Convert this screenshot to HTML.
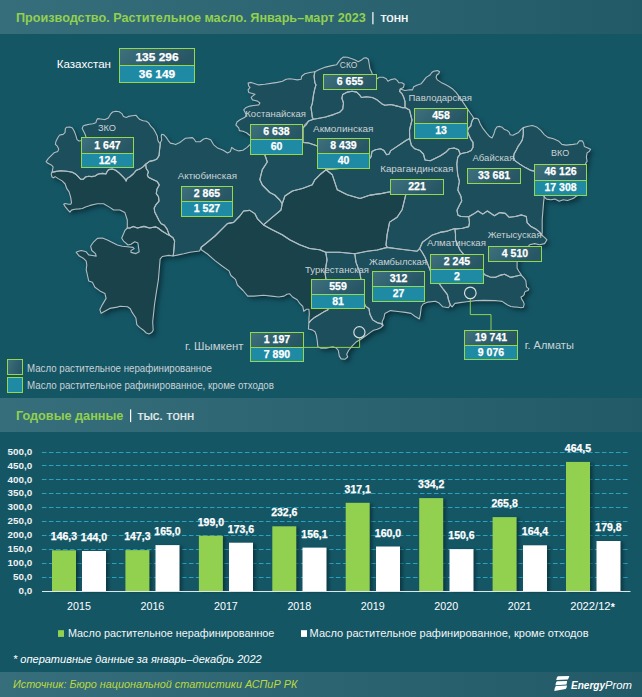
<!DOCTYPE html>
<html><head><meta charset="utf-8">
<style>
html,body{margin:0;padding:0;background:#155665;}
svg{display:block;font-family:"Liberation Sans",sans-serif;}
</style></head>
<body>
<svg width="642" height="697" viewBox="0 0 642 697">
<defs>
<linearGradient id="hdr" x1="0" y1="0" x2="1" y2="0">
<stop offset="0" stop-color="#376e7b"/><stop offset="1" stop-color="#235a68"/>
</linearGradient>
<linearGradient id="boxg" x1="0" y1="0" x2="1" y2="0.3">
<stop offset="0" stop-color="#3e707d"/><stop offset="1" stop-color="#275665"/>
</linearGradient>
<filter id="msh" x="-10%" y="-10%" width="120%" height="120%" color-interpolation-filters="sRGB">
<feDropShadow dx="3" dy="3" stdDeviation="2.5" flood-color="#05262e" flood-opacity="0.75"/>
</filter>
<filter id="bsh" x="-20%" y="-10%" width="160%" height="120%" color-interpolation-filters="sRGB">
<feDropShadow dx="3" dy="1" stdDeviation="1.5" flood-color="#062a33" flood-opacity="0.6"/>
</filter>
</defs>
<rect width="642" height="697" fill="#155665"/>
<rect x="0" y="0" width="642" height="34" fill="url(#hdr)"/>
<text x="16.0" y="21.8" font-size="12.90" fill="#92d050" font-weight="bold" font-style="normal" text-anchor="start" textLength="349.8" lengthAdjust="spacingAndGlyphs">Производство. Растительное масло. Январь–март 2023</text><rect x="372.3" y="12.1" width="1.2" height="12.2" fill="#fff"/><text x="380.4" y="21.5" font-size="12.90" fill="#fff" font-weight="normal" font-style="normal" text-anchor="start" textLength="28.0" lengthAdjust="spacingAndGlyphs" stroke="#fff" stroke-width="0.2">тонн</text>
<g filter="url(#msh)">
<polygon points="46.1,161.6 48.4,158.4 51.2,155.6 54.0,152.8 57.8,151.4 58.7,149.0 57.3,146.2 55.4,144.3 55.9,141.5 57.8,137.8 59.6,135.0 60.3,134.9 63.1,134.4 65.0,132.6 65.4,128.4 66.8,127.2 70.1,127.1 72.4,127.9 74.3,131.2 75.7,134.9 77.1,139.6 79.0,141.0 81.5,140.5 84.0,139.0 86.0,137.2 85.0,134.0 83.6,131.2 82.2,128.4 83.2,126.0 85.5,125.1 89.3,124.2 93.0,123.7 95.8,122.8 96.7,120.0 97.7,118.6 100.5,119.0 104.2,119.5 105.0,119.6 108.3,118.0 110.5,114.2 112.6,112.0 115.9,111.2 119.2,111.8 121.9,113.6 123.5,116.4 126.3,117.4 128.4,116.4 132.3,115.8 136.1,115.3 137.7,117.4 139.9,119.6 143.2,120.7 146.4,121.3 148.6,122.9 150.8,126.2 153.5,128.9 155.7,132.7 157.3,136.0 157.9,140.3 159.0,142.5 160.3,143.5 160.1,145.8 159.5,150.2 159.0,155.0 157.2,158.7 153.9,160.4 149.5,161.4 145.7,164.2 143.0,166.9 139.7,169.1 136.4,170.2 133.2,174.0 129.9,176.7 127.2,178.4 126.1,181.1 125.0,178.9 122.3,176.2 119.0,172.9 115.7,170.2 112.4,169.1 108.6,169.6 107.0,171.8 105.9,174.0 102.6,173.4 98.3,174.0 95.0,176.0 91.7,176.6 88.6,176.2 85.5,177.0 83.2,179.3 80.8,179.3 77.7,176.2 75.4,173.9 72.3,172.3 66.8,171.2 60.6,170.8 55.1,171.6 52.0,172.3 52.6,169.6 53.1,166.8 51.2,164.9 47.5,163.0" fill="#1d4e5b"/>
<polygon points="52.0,172.3 55.1,171.6 60.6,170.8 66.8,171.2 72.3,172.3 75.4,173.9 77.7,176.2 80.8,179.3 83.2,179.3 85.5,177.0 88.6,176.2 91.7,176.6 95.0,176.0 98.3,174.0 102.6,173.4 105.9,174.0 107.0,171.8 108.6,169.6 112.4,169.1 115.7,170.2 119.0,172.9 122.3,176.2 125.0,178.9 126.1,181.1 127.2,178.4 129.9,176.7 133.2,174.0 136.4,170.2 139.7,169.1 143.0,166.9 145.7,164.2 146.2,168.5 148.4,171.8 147.3,175.1 148.4,177.3 152.8,179.4 157.2,181.6 159.3,184.9 156.9,189.3 156.3,193.6 158.5,196.8 159.0,201.1 155.8,204.9 154.2,208.1 154.7,211.9 156.9,216.2 159.0,220.5 161.2,223.7 164.4,225.3 167.1,229.1 168.7,233.4 169.8,235.5 166.6,233.9 162.3,231.2 158.0,228.0 155.8,226.9 149.4,228.0 144.0,226.4 137.5,228.0 133.2,226.4 130.0,228.0 127.3,228.0 127.3,220.0 124.8,212.4 119.8,210.0 113.6,210.0 109.8,207.4 103.6,203.7 97.4,203.7 95.0,204.3 90.2,205.4 85.5,207.0 82.4,208.5 79.3,208.9 74.6,209.3 71.5,210.1 69.9,212.1 67.6,209.7 65.2,206.6 63.7,204.3 65.2,203.5 68.4,204.3 70.7,204.3 71.5,202.7 70.7,197.3 69.1,191.8 66.8,188.7 65.2,184.0 62.1,180.9 58.2,178.6 55.1,176.6 53.6,177.8 52.0,177.0 51.2,173.9" fill="#1a424b"/>
<polygon points="127.3,228.0 130.0,228.0 133.2,226.4 137.5,228.0 144.0,226.4 149.4,228.0 155.8,226.9 158.0,228.0 162.3,231.2 166.6,233.9 169.8,235.5 173.0,237.7 174.6,240.9 174.1,247.4 173.5,253.8 173.0,256.0 168.7,255.4 162.3,256.5 160.1,259.2 158.4,279.7 156.0,294.7 154.6,304.0 153.6,313.4 152.7,321.8 153.2,330.2 151.8,332.5 149.0,334.0 146.2,333.0 143.4,330.2 139.6,327.4 136.8,324.6 135.9,318.0 132.1,312.4 130.3,308.7 127.5,306.8 120.0,306.3 117.3,307.1 109.8,308.4 101.1,313.3 99.9,309.6 102.4,304.6 106.1,298.4 104.9,293.4 99.9,290.9 94.9,287.2 92.4,282.2 88.7,281.0 86.2,269.7 86.8,265.0 86.2,261.1 83.7,258.6 79.3,256.1 76.2,252.4 76.9,251.8 81.2,250.5 86.2,251.8 88.7,254.9 92.4,255.5 96.2,256.1 95.5,253.6 91.8,250.5 90.6,246.2 93.7,241.8 97.4,238.4 102.4,238.0 107.4,240.0 112.4,242.4 117.4,245.0 122.3,246.2 127.3,246.8 133.0,247.4 134.2,248.6 131.0,250.5 131.0,252.4 136.0,253.6 139.2,251.8 138.5,247.4 137.9,243.0 134.8,241.8 131.0,244.3 128.0,245.0 123.6,241.2 121.7,238.0 123.6,233.7 124.8,230.6" fill="#1a424b"/>
<polygon points="160.6,142.0 161.7,140.3 161.2,136.0 161.7,134.3 163.9,134.9 166.1,137.1 168.2,140.3 170.4,143.1 172.8,143.6 175.6,144.6 179.8,142.5 182.6,140.4 185.4,138.3 192.4,137.6 194.5,139.7 195.9,141.8 200.1,141.8 203.6,139.0 206.5,138.3 210.7,139.7 213.5,144.6 217.7,148.1 223.3,150.2 227.5,153.0 230.3,151.6 231.7,147.4 234.5,149.5 238.7,150.9 242.9,150.2 247.1,147.4 249.9,144.6 252.0,143.0 258.0,150.0 264.8,154.7 267.3,162.0 262.3,169.6 259.8,179.6 262.3,185.0 267.3,190.0 269.7,192.5 274.7,195.0 279.7,200.0 282.2,203.7 281.0,210.0 272.2,217.4 263.5,224.9 257.3,218.6 254.8,213.6 249.8,210.4 243.6,211.0 239.8,216.0 233.6,222.4 227.4,223.6 222.4,228.6 215.0,236.0 207.4,242.3 201.2,247.3 199.6,251.0 190.0,252.2 183.8,253.8 178.4,254.9 173.0,256.0 173.5,253.8 174.1,247.4 174.6,240.9 173.0,237.7 169.8,235.5 168.7,233.4 167.1,229.1 164.4,225.3 161.2,223.7 159.0,220.5 156.9,216.2 154.7,211.9 154.2,208.1 155.8,204.9 159.0,201.1 158.5,196.8 156.3,193.6 156.9,189.3 159.3,184.9 157.2,181.6 152.8,179.4 148.4,177.3 147.3,175.1 148.4,171.8 146.2,168.5 145.7,164.2 149.5,161.4 153.9,160.4 157.2,158.7 159.3,155.5 159.5,150.2 160.1,145.8 160.3,143.5" fill="#1d4e5b"/>
<polygon points="248.1,83.1 251.2,82.4 255.0,83.7 258.7,84.9 264.9,84.3 272.4,83.1 277.4,82.4 282.4,81.2 286.1,79.3 289.8,78.7 293.6,79.3 297.3,79.9 301.1,79.3 301.7,76.2 304.8,73.7 309.8,72.5 314.8,71.8 314.1,76.2 314.8,82.4 316.0,84.9 314.8,88.7 313.5,94.9 312.3,103.6 311.0,107.4 311.7,112.3 312.3,117.3 313.5,119.2 308.5,121.1 304.8,124.8 303.0,128.0 303.0,142.4 308.7,143.0 312.4,144.2 317.4,146.1 322.0,155.0 326.0,169.8 319.8,174.8 314.8,179.8 312.3,184.8 302.4,188.5 292.4,191.0 284.9,196.0 282.2,203.7 279.7,200.0 274.7,195.0 269.7,192.5 267.3,190.0 262.3,185.0 259.8,179.6 262.3,169.6 267.3,162.0 264.8,154.7 258.0,150.0 252.0,143.0 251.0,137.0 249.9,135.5 246.4,132.7 242.9,131.3 239.4,130.6 238.7,127.8 235.9,125.0 237.0,122.0 240.0,119.8 245.0,117.3 246.2,114.8 245.0,112.3 243.7,109.8 246.2,107.4 250.0,106.1 253.7,105.5 258.7,104.9 259.9,103.0 257.4,101.1 252.5,99.9 251.2,97.4 252.5,96.1 255.0,94.3 252.5,93.6 248.7,92.4 248.1,89.9 250.0,87.4 248.7,86.2" fill="#1d4e5b"/>
<polygon points="314.8,71.8 319.3,69.5 325.6,67.1 331.8,65.6 336.5,64.8 338.8,61.7 341.2,58.6 343.5,57.0 347.4,57.3 351.3,58.6 355.2,60.1 358.3,61.7 361.4,60.1 363.7,58.1 366.1,57.8 368.4,59.3 369.2,64.0 370.0,68.7 371.5,71.8 372.3,74.1 375.0,77.0 377.0,78.8 379.3,77.3 383.2,77.3 386.3,78.8 387.9,81.2 391.0,79.6 394.9,78.8 397.2,80.4 398.8,82.7 401.9,82.7 404.2,84.3 403.5,87.4 400.3,88.9 399.6,91.3 401.9,93.6 403.5,96.7 405.0,101.4 405.0,107.6 401.9,107.6 397.2,106.1 391.0,104.5 384.8,105.3 381.7,103.7 377.0,99.8 372.3,97.5 366.1,96.7 361.4,97.5 359.8,95.2 356.7,92.1 352.1,91.3 347.4,92.1 342.7,94.4 341.9,98.3 343.5,103.0 342.7,109.2 339.6,112.3 333.4,114.6 325.6,117.0 317.8,118.5 313.5,119.2 312.3,117.3 311.7,112.3 311.0,107.4 312.3,103.6 313.5,94.9 314.8,88.7 316.0,84.9 314.8,82.4 314.1,76.2" fill="#1d4e5b"/>
<polygon points="313.5,119.2 317.8,118.5 325.6,117.0 333.4,114.6 339.6,112.3 342.7,109.2 343.5,103.0 341.9,98.3 342.7,94.4 347.4,92.1 352.1,91.3 356.7,92.1 359.8,95.2 361.4,97.5 366.1,96.7 372.3,97.5 377.0,99.8 381.7,103.7 384.8,105.3 391.0,104.5 397.2,106.1 401.9,107.6 405.0,107.6 409.5,110.0 412.0,120.0 409.5,130.0 409.7,138.6 406.3,140.3 401.1,143.7 396.0,147.1 390.8,150.6 389.1,154.0 386.6,154.8 384.0,150.6 380.6,148.8 375.4,149.7 372.0,151.4 371.1,156.6 365.0,165.0 345.0,168.0 326.0,169.8 322.0,155.0 317.4,146.1 312.4,144.2 308.7,143.0 303.0,142.4 303.0,128.0 306.2,124.9 308.5,121.1" fill="#1d4e5b"/>
<polygon points="399.6,91.3 400.3,88.9 405.0,90.5 410.0,89.7 412.5,89.9 413.7,86.8 417.4,84.9 421.2,83.7 423.7,80.6 426.2,77.4 430.0,75.0 431.8,72.5 433.6,71.2 437.4,70.6 439.6,71.8 438.6,73.7 436.8,75.0 436.1,77.4 437.4,79.9 441.1,82.4 444.9,84.3 448.6,86.2 452.3,88.7 456.1,92.4 459.8,97.4 462.3,101.1 464.8,104.9 467.3,108.6 469.8,112.3 472.8,116.5 473.7,118.4 472.3,120.3 471.4,123.1 470.9,125.9 468.7,128.0 467.4,131.0 469.3,136.1 471.2,139.9 473.0,142.4 473.0,147.3 471.2,150.5 467.4,152.3 463.7,153.0 460.2,154.0 458.5,149.7 454.2,148.0 449.1,148.8 445.7,152.3 440.5,155.7 435.4,158.3 430.3,160.8 425.1,160.0 423.4,154.0 420.0,150.6 414.8,148.8 411.4,145.4 409.7,138.6 409.5,130.0 412.0,120.0 409.5,110.0 405.0,107.6 405.0,101.4 403.5,96.7 401.9,93.6" fill="#1d4e5b"/>
<polygon points="326.0,169.8 345.0,168.0 365.0,165.0 371.1,156.6 372.0,151.4 375.4,149.7 380.6,148.8 384.0,150.6 386.6,154.8 389.1,154.0 390.8,150.6 396.0,147.1 401.1,143.7 406.3,140.3 409.7,138.6 411.4,145.4 414.8,148.8 420.0,150.6 423.4,154.0 425.1,160.0 430.3,160.8 435.4,158.3 440.5,155.7 445.7,152.3 449.1,148.8 454.2,148.0 458.5,149.7 460.2,154.0 457.7,157.4 456.8,164.3 457.7,174.6 459.4,181.4 458.5,186.0 457.8,190.0 459.3,193.1 460.9,196.2 461.7,200.9 459.3,205.6 457.0,210.2 457.8,214.9 460.9,216.5 468.7,216.8 469.5,222.7 468.7,226.6 462.5,228.2 456.2,228.9 454.8,228.6 447.4,231.1 439.9,232.4 432.4,234.9 427.4,238.6 422.4,242.3 419.6,248.7 417.1,251.2 407.1,250.0 397.1,248.7 387.2,247.4 386.0,245.0 387.1,234.6 389.6,222.1 397.1,217.2 402.1,209.7 404.6,199.7 405.8,194.7 398.0,193.0 390.0,191.7 382.3,193.4 370.3,195.1 360.0,198.5 347.2,194.7 337.3,189.8 334.8,182.3 332.3,174.8" fill="#1d4e5b"/>
<polygon points="282.2,203.7 284.9,196.0 292.4,191.0 302.4,188.5 312.3,184.8 314.8,179.8 319.8,174.8 326.0,169.8 332.3,174.8 334.8,182.3 337.3,189.8 347.2,194.7 360.0,198.5 370.3,195.1 382.3,193.4 390.0,191.7 398.0,193.0 405.8,194.7 404.6,199.7 402.1,209.7 397.1,217.2 389.6,222.1 387.1,234.6 386.0,245.0 387.2,247.4 377.2,250.0 367.2,251.2 354.8,253.7 339.5,252.3 325.8,252.3 319.6,249.8 309.6,248.5 299.7,244.8 289.7,239.8 282.2,234.8 272.2,229.8 263.5,224.9 272.2,217.4 281.0,210.0" fill="#1a424b"/>
<polygon points="473.7,118.4 476.5,118.2 478.4,119.3 480.3,124.0 483.1,128.7 486.8,133.4 489.6,136.6 492.0,138.0 493.8,134.3 495.2,129.6 497.1,126.8 499.9,126.4 502.2,127.3 504.6,129.6 507.4,130.6 509.3,132.4 510.2,134.8 513.0,135.2 515.8,133.8 518.6,132.4 520.9,129.6 523.3,127.6 523.3,134.3 522.3,139.9 520.5,143.0 518.4,145.8 516.3,150.0 514.2,153.6 513.5,157.1 514.9,160.6 519.8,164.1 525.4,167.6 531.0,170.4 534.5,171.1 540.0,185.0 544.3,197.0 543.6,201.9 543.0,210.0 542.2,219.6 542.2,232.1 541.9,235.2 539.6,232.1 535.7,228.9 531.0,226.6 527.1,222.7 526.3,216.5 521.7,214.9 515.4,216.5 509.2,217.3 505.3,213.4 499.8,212.6 494.4,215.7 487.4,211.0 482.7,214.1 478.0,211.0 473.4,214.1 468.7,216.8 460.9,216.5 457.8,214.9 457.0,210.2 459.3,205.6 461.7,200.9 460.9,196.2 459.3,193.1 457.8,190.0 458.5,186.0 459.4,181.4 457.7,174.6 456.8,164.3 457.7,157.4 460.2,154.0 463.7,153.0 467.4,152.3 471.2,150.5 473.0,147.3 473.0,142.4 471.2,139.9 469.3,136.1 467.4,131.0 468.7,128.0 470.9,125.9 471.4,123.1 472.3,120.3" fill="#1d4e5b"/>
<polygon points="523.3,127.6 528.2,126.2 532.4,125.5 536.6,126.9 540.8,130.4 544.3,134.6 547.9,137.4 553.5,138.8 558.4,140.9 561.9,144.4 566.1,145.1 573.1,144.4 577.3,143.7 579.4,140.9 582.2,140.9 583.6,143.0 584.3,146.5 587.8,147.9 590.6,149.3 589.2,151.5 587.1,152.9 586.4,157.1 587.1,161.3 585.7,163.4 582.0,180.0 577.0,196.0 575.9,196.3 574.5,197.7 571.7,199.1 567.5,200.5 563.3,199.8 559.1,201.2 554.9,199.1 550.7,199.8 546.5,199.1 544.3,197.0 540.0,185.0 534.5,171.1 531.0,170.4 525.4,167.6 519.8,164.1 514.9,160.6 513.5,157.1 514.2,153.6 516.3,150.0 518.4,145.8 520.5,143.0 522.3,139.9 523.3,134.3" fill="#1d4e5b"/>
<polygon points="454.8,228.6 456.2,228.9 462.5,228.2 468.7,226.6 469.5,222.7 468.7,216.8 473.4,214.1 478.0,211.0 482.7,214.1 487.4,211.0 494.4,215.7 499.8,212.6 505.3,213.4 509.2,217.3 515.4,216.5 521.7,214.9 526.3,216.5 527.1,222.7 531.0,226.6 535.7,228.9 539.6,232.1 541.9,235.2 544.6,237.4 547.0,239.8 544.6,243.6 539.6,244.8 534.6,243.6 529.6,244.8 525.0,250.0 518.0,258.0 517.1,262.4 517.1,267.9 518.7,271.0 521.0,274.2 521.0,275.0 515.5,276.2 510.8,277.4 507.6,275.8 504.5,274.2 499.7,275.4 495.0,277.4 490.0,277.0 484.7,274.7 480.0,268.0 470.0,262.0 460.0,250.0 455.5,240.0 455.5,233.6" fill="#1d4e5b"/>
<polygon points="419.6,248.7 422.4,242.3 427.4,238.6 432.4,234.9 439.9,232.4 447.4,231.1 454.8,228.6 455.5,233.6 455.5,240.0 460.0,250.0 470.0,262.0 480.0,268.0 484.7,274.7 490.0,277.0 495.0,277.4 499.7,275.4 504.5,274.2 507.6,275.8 510.8,277.4 515.5,276.2 521.0,275.0 523.4,277.4 525.8,280.5 526.2,283.7 526.5,286.8 528.9,288.8 528.1,290.4 525.8,291.2 524.6,292.3 524.2,294.7 522.6,296.3 521.0,297.1 521.8,299.4 523.4,301.8 524.2,304.2 523.4,307.3 521.0,307.7 517.9,307.3 513.9,306.9 510.8,306.5 507.6,305.0 504.5,303.0 502.1,301.4 498.9,301.0 495.0,300.6 484.2,300.4 476.0,300.6 466.7,301.8 460.0,302.6 455.0,303.4 452.1,306.8 450.3,305.0 448.4,299.3 447.4,294.7 443.6,289.7 440.0,284.7 432.0,275.0 430.0,269.7 425.0,257.3 422.0,252.0" fill="#1d4e5b"/>
<polygon points="354.8,253.7 367.2,251.2 377.2,250.0 387.2,247.4 397.1,248.7 407.1,250.0 417.1,251.2 419.6,248.7 422.0,252.0 425.0,257.3 430.0,269.7 432.0,275.0 440.0,284.7 443.6,289.7 447.4,294.7 448.4,299.3 450.3,305.0 448.4,307.8 442.8,306.8 439.1,303.1 435.3,301.2 427.9,302.1 423.2,304.0 421.3,306.8 420.4,314.3 419.4,319.0 414.8,316.2 411.0,313.4 405.4,312.4 397.9,311.5 390.5,310.6 384.9,313.4 383.9,318.0 382.1,321.8 383.0,325.5 381.1,323.6 377.4,322.7 372.7,319.9 369.9,314.3 369.0,308.7 365.2,305.9 362.0,295.0 361.0,280.0 359.8,272.4 356.0,262.4" fill="#1d4e5b"/>
<polygon points="325.8,252.3 339.5,252.3 354.8,253.7 356.0,262.4 359.8,272.4 361.0,280.0 362.0,295.0 365.2,305.9 369.0,308.7 369.9,314.3 372.7,319.9 377.4,322.7 381.1,323.6 383.0,325.5 381.1,327.4 377.4,329.3 373.6,330.2 370.8,332.1 367.1,334.9 360.6,339.5 356.1,342.1 352.3,345.8 348.6,350.5 346.7,354.2 347.7,357.0 344.9,359.3 341.1,358.9 339.3,356.1 338.3,350.5 336.4,348.1 332.7,346.7 326.2,348.1 320.6,348.1 317.8,346.7 317.3,341.1 316.4,335.5 315.0,331.8 312.1,329.9 308.4,329.0 308.9,322.4 309.3,322.4 311.2,320.1 314.0,317.8 318.7,315.0 323.4,312.1 328.0,309.8 327.0,295.0 326.0,280.0 325.0,272.4 325.8,267.2 327.0,259.8" fill="#1d4e5b"/>
<polygon points="201.2,247.3 207.4,242.3 215.0,236.0 222.4,228.6 227.4,223.6 233.6,222.4 239.8,216.0 243.6,211.0 249.8,210.4 254.8,213.6 257.3,218.6 263.5,224.9 272.2,229.8 282.2,234.8 289.7,239.8 299.7,244.8 309.6,248.5 319.6,249.8 325.8,252.3 327.0,259.8 325.8,267.2 325.0,272.4 326.0,280.0 327.0,295.0 328.0,309.8 323.4,312.1 318.7,315.0 314.0,317.8 311.2,320.1 309.3,322.4 308.9,322.4 308.9,318.7 309.3,314.0 308.9,309.3 306.5,309.3 303.7,311.2 302.8,306.5 300.0,303.7 297.2,299.8 292.5,297.0 289.7,293.8 287.0,294.2 284.1,296.1 278.7,297.0 271.2,296.1 263.6,295.2 254.2,296.1 247.7,296.1 243.0,290.5 237.4,285.0 235.5,279.3 230.9,275.5 229.0,270.9 222.4,266.2 215.0,260.6 207.5,254.0 201.2,249.8" fill="#1a424b"/>
</g>
<g fill="none" stroke="#b0bec2" stroke-width="1.1" stroke-linejoin="round">
<polygon points="46.1,161.6 48.4,158.4 51.2,155.6 54.0,152.8 57.8,151.4 58.7,149.0 57.3,146.2 55.4,144.3 55.9,141.5 57.8,137.8 59.6,135.0 60.3,134.9 63.1,134.4 65.0,132.6 65.4,128.4 66.8,127.2 70.1,127.1 72.4,127.9 74.3,131.2 75.7,134.9 77.1,139.6 79.0,141.0 81.5,140.5 84.0,139.0 86.0,137.2 85.0,134.0 83.6,131.2 82.2,128.4 83.2,126.0 85.5,125.1 89.3,124.2 93.0,123.7 95.8,122.8 96.7,120.0 97.7,118.6 100.5,119.0 104.2,119.5 105.0,119.6 108.3,118.0 110.5,114.2 112.6,112.0 115.9,111.2 119.2,111.8 121.9,113.6 123.5,116.4 126.3,117.4 128.4,116.4 132.3,115.8 136.1,115.3 137.7,117.4 139.9,119.6 143.2,120.7 146.4,121.3 148.6,122.9 150.8,126.2 153.5,128.9 155.7,132.7 157.3,136.0 157.9,140.3 159.0,142.5 160.3,143.5 160.1,145.8 159.5,150.2 159.0,155.0 157.2,158.7 153.9,160.4 149.5,161.4 145.7,164.2 143.0,166.9 139.7,169.1 136.4,170.2 133.2,174.0 129.9,176.7 127.2,178.4 126.1,181.1 125.0,178.9 122.3,176.2 119.0,172.9 115.7,170.2 112.4,169.1 108.6,169.6 107.0,171.8 105.9,174.0 102.6,173.4 98.3,174.0 95.0,176.0 91.7,176.6 88.6,176.2 85.5,177.0 83.2,179.3 80.8,179.3 77.7,176.2 75.4,173.9 72.3,172.3 66.8,171.2 60.6,170.8 55.1,171.6 52.0,172.3 52.6,169.6 53.1,166.8 51.2,164.9 47.5,163.0"/>
<polygon points="52.0,172.3 55.1,171.6 60.6,170.8 66.8,171.2 72.3,172.3 75.4,173.9 77.7,176.2 80.8,179.3 83.2,179.3 85.5,177.0 88.6,176.2 91.7,176.6 95.0,176.0 98.3,174.0 102.6,173.4 105.9,174.0 107.0,171.8 108.6,169.6 112.4,169.1 115.7,170.2 119.0,172.9 122.3,176.2 125.0,178.9 126.1,181.1 127.2,178.4 129.9,176.7 133.2,174.0 136.4,170.2 139.7,169.1 143.0,166.9 145.7,164.2 146.2,168.5 148.4,171.8 147.3,175.1 148.4,177.3 152.8,179.4 157.2,181.6 159.3,184.9 156.9,189.3 156.3,193.6 158.5,196.8 159.0,201.1 155.8,204.9 154.2,208.1 154.7,211.9 156.9,216.2 159.0,220.5 161.2,223.7 164.4,225.3 167.1,229.1 168.7,233.4 169.8,235.5 166.6,233.9 162.3,231.2 158.0,228.0 155.8,226.9 149.4,228.0 144.0,226.4 137.5,228.0 133.2,226.4 130.0,228.0 127.3,228.0 127.3,220.0 124.8,212.4 119.8,210.0 113.6,210.0 109.8,207.4 103.6,203.7 97.4,203.7 95.0,204.3 90.2,205.4 85.5,207.0 82.4,208.5 79.3,208.9 74.6,209.3 71.5,210.1 69.9,212.1 67.6,209.7 65.2,206.6 63.7,204.3 65.2,203.5 68.4,204.3 70.7,204.3 71.5,202.7 70.7,197.3 69.1,191.8 66.8,188.7 65.2,184.0 62.1,180.9 58.2,178.6 55.1,176.6 53.6,177.8 52.0,177.0 51.2,173.9"/>
<polygon points="127.3,228.0 130.0,228.0 133.2,226.4 137.5,228.0 144.0,226.4 149.4,228.0 155.8,226.9 158.0,228.0 162.3,231.2 166.6,233.9 169.8,235.5 173.0,237.7 174.6,240.9 174.1,247.4 173.5,253.8 173.0,256.0 168.7,255.4 162.3,256.5 160.1,259.2 158.4,279.7 156.0,294.7 154.6,304.0 153.6,313.4 152.7,321.8 153.2,330.2 151.8,332.5 149.0,334.0 146.2,333.0 143.4,330.2 139.6,327.4 136.8,324.6 135.9,318.0 132.1,312.4 130.3,308.7 127.5,306.8 120.0,306.3 117.3,307.1 109.8,308.4 101.1,313.3 99.9,309.6 102.4,304.6 106.1,298.4 104.9,293.4 99.9,290.9 94.9,287.2 92.4,282.2 88.7,281.0 86.2,269.7 86.8,265.0 86.2,261.1 83.7,258.6 79.3,256.1 76.2,252.4 76.9,251.8 81.2,250.5 86.2,251.8 88.7,254.9 92.4,255.5 96.2,256.1 95.5,253.6 91.8,250.5 90.6,246.2 93.7,241.8 97.4,238.4 102.4,238.0 107.4,240.0 112.4,242.4 117.4,245.0 122.3,246.2 127.3,246.8 133.0,247.4 134.2,248.6 131.0,250.5 131.0,252.4 136.0,253.6 139.2,251.8 138.5,247.4 137.9,243.0 134.8,241.8 131.0,244.3 128.0,245.0 123.6,241.2 121.7,238.0 123.6,233.7 124.8,230.6"/>
<polygon points="160.6,142.0 161.7,140.3 161.2,136.0 161.7,134.3 163.9,134.9 166.1,137.1 168.2,140.3 170.4,143.1 172.8,143.6 175.6,144.6 179.8,142.5 182.6,140.4 185.4,138.3 192.4,137.6 194.5,139.7 195.9,141.8 200.1,141.8 203.6,139.0 206.5,138.3 210.7,139.7 213.5,144.6 217.7,148.1 223.3,150.2 227.5,153.0 230.3,151.6 231.7,147.4 234.5,149.5 238.7,150.9 242.9,150.2 247.1,147.4 249.9,144.6 252.0,143.0 258.0,150.0 264.8,154.7 267.3,162.0 262.3,169.6 259.8,179.6 262.3,185.0 267.3,190.0 269.7,192.5 274.7,195.0 279.7,200.0 282.2,203.7 281.0,210.0 272.2,217.4 263.5,224.9 257.3,218.6 254.8,213.6 249.8,210.4 243.6,211.0 239.8,216.0 233.6,222.4 227.4,223.6 222.4,228.6 215.0,236.0 207.4,242.3 201.2,247.3 199.6,251.0 190.0,252.2 183.8,253.8 178.4,254.9 173.0,256.0 173.5,253.8 174.1,247.4 174.6,240.9 173.0,237.7 169.8,235.5 168.7,233.4 167.1,229.1 164.4,225.3 161.2,223.7 159.0,220.5 156.9,216.2 154.7,211.9 154.2,208.1 155.8,204.9 159.0,201.1 158.5,196.8 156.3,193.6 156.9,189.3 159.3,184.9 157.2,181.6 152.8,179.4 148.4,177.3 147.3,175.1 148.4,171.8 146.2,168.5 145.7,164.2 149.5,161.4 153.9,160.4 157.2,158.7 159.3,155.5 159.5,150.2 160.1,145.8 160.3,143.5"/>
<polygon points="248.1,83.1 251.2,82.4 255.0,83.7 258.7,84.9 264.9,84.3 272.4,83.1 277.4,82.4 282.4,81.2 286.1,79.3 289.8,78.7 293.6,79.3 297.3,79.9 301.1,79.3 301.7,76.2 304.8,73.7 309.8,72.5 314.8,71.8 314.1,76.2 314.8,82.4 316.0,84.9 314.8,88.7 313.5,94.9 312.3,103.6 311.0,107.4 311.7,112.3 312.3,117.3 313.5,119.2 308.5,121.1 304.8,124.8 303.0,128.0 303.0,142.4 308.7,143.0 312.4,144.2 317.4,146.1 322.0,155.0 326.0,169.8 319.8,174.8 314.8,179.8 312.3,184.8 302.4,188.5 292.4,191.0 284.9,196.0 282.2,203.7 279.7,200.0 274.7,195.0 269.7,192.5 267.3,190.0 262.3,185.0 259.8,179.6 262.3,169.6 267.3,162.0 264.8,154.7 258.0,150.0 252.0,143.0 251.0,137.0 249.9,135.5 246.4,132.7 242.9,131.3 239.4,130.6 238.7,127.8 235.9,125.0 237.0,122.0 240.0,119.8 245.0,117.3 246.2,114.8 245.0,112.3 243.7,109.8 246.2,107.4 250.0,106.1 253.7,105.5 258.7,104.9 259.9,103.0 257.4,101.1 252.5,99.9 251.2,97.4 252.5,96.1 255.0,94.3 252.5,93.6 248.7,92.4 248.1,89.9 250.0,87.4 248.7,86.2"/>
<polygon points="314.8,71.8 319.3,69.5 325.6,67.1 331.8,65.6 336.5,64.8 338.8,61.7 341.2,58.6 343.5,57.0 347.4,57.3 351.3,58.6 355.2,60.1 358.3,61.7 361.4,60.1 363.7,58.1 366.1,57.8 368.4,59.3 369.2,64.0 370.0,68.7 371.5,71.8 372.3,74.1 375.0,77.0 377.0,78.8 379.3,77.3 383.2,77.3 386.3,78.8 387.9,81.2 391.0,79.6 394.9,78.8 397.2,80.4 398.8,82.7 401.9,82.7 404.2,84.3 403.5,87.4 400.3,88.9 399.6,91.3 401.9,93.6 403.5,96.7 405.0,101.4 405.0,107.6 401.9,107.6 397.2,106.1 391.0,104.5 384.8,105.3 381.7,103.7 377.0,99.8 372.3,97.5 366.1,96.7 361.4,97.5 359.8,95.2 356.7,92.1 352.1,91.3 347.4,92.1 342.7,94.4 341.9,98.3 343.5,103.0 342.7,109.2 339.6,112.3 333.4,114.6 325.6,117.0 317.8,118.5 313.5,119.2 312.3,117.3 311.7,112.3 311.0,107.4 312.3,103.6 313.5,94.9 314.8,88.7 316.0,84.9 314.8,82.4 314.1,76.2"/>
<polygon points="313.5,119.2 317.8,118.5 325.6,117.0 333.4,114.6 339.6,112.3 342.7,109.2 343.5,103.0 341.9,98.3 342.7,94.4 347.4,92.1 352.1,91.3 356.7,92.1 359.8,95.2 361.4,97.5 366.1,96.7 372.3,97.5 377.0,99.8 381.7,103.7 384.8,105.3 391.0,104.5 397.2,106.1 401.9,107.6 405.0,107.6 409.5,110.0 412.0,120.0 409.5,130.0 409.7,138.6 406.3,140.3 401.1,143.7 396.0,147.1 390.8,150.6 389.1,154.0 386.6,154.8 384.0,150.6 380.6,148.8 375.4,149.7 372.0,151.4 371.1,156.6 365.0,165.0 345.0,168.0 326.0,169.8 322.0,155.0 317.4,146.1 312.4,144.2 308.7,143.0 303.0,142.4 303.0,128.0 306.2,124.9 308.5,121.1"/>
<polygon points="399.6,91.3 400.3,88.9 405.0,90.5 410.0,89.7 412.5,89.9 413.7,86.8 417.4,84.9 421.2,83.7 423.7,80.6 426.2,77.4 430.0,75.0 431.8,72.5 433.6,71.2 437.4,70.6 439.6,71.8 438.6,73.7 436.8,75.0 436.1,77.4 437.4,79.9 441.1,82.4 444.9,84.3 448.6,86.2 452.3,88.7 456.1,92.4 459.8,97.4 462.3,101.1 464.8,104.9 467.3,108.6 469.8,112.3 472.8,116.5 473.7,118.4 472.3,120.3 471.4,123.1 470.9,125.9 468.7,128.0 467.4,131.0 469.3,136.1 471.2,139.9 473.0,142.4 473.0,147.3 471.2,150.5 467.4,152.3 463.7,153.0 460.2,154.0 458.5,149.7 454.2,148.0 449.1,148.8 445.7,152.3 440.5,155.7 435.4,158.3 430.3,160.8 425.1,160.0 423.4,154.0 420.0,150.6 414.8,148.8 411.4,145.4 409.7,138.6 409.5,130.0 412.0,120.0 409.5,110.0 405.0,107.6 405.0,101.4 403.5,96.7 401.9,93.6"/>
<polygon points="326.0,169.8 345.0,168.0 365.0,165.0 371.1,156.6 372.0,151.4 375.4,149.7 380.6,148.8 384.0,150.6 386.6,154.8 389.1,154.0 390.8,150.6 396.0,147.1 401.1,143.7 406.3,140.3 409.7,138.6 411.4,145.4 414.8,148.8 420.0,150.6 423.4,154.0 425.1,160.0 430.3,160.8 435.4,158.3 440.5,155.7 445.7,152.3 449.1,148.8 454.2,148.0 458.5,149.7 460.2,154.0 457.7,157.4 456.8,164.3 457.7,174.6 459.4,181.4 458.5,186.0 457.8,190.0 459.3,193.1 460.9,196.2 461.7,200.9 459.3,205.6 457.0,210.2 457.8,214.9 460.9,216.5 468.7,216.8 469.5,222.7 468.7,226.6 462.5,228.2 456.2,228.9 454.8,228.6 447.4,231.1 439.9,232.4 432.4,234.9 427.4,238.6 422.4,242.3 419.6,248.7 417.1,251.2 407.1,250.0 397.1,248.7 387.2,247.4 386.0,245.0 387.1,234.6 389.6,222.1 397.1,217.2 402.1,209.7 404.6,199.7 405.8,194.7 398.0,193.0 390.0,191.7 382.3,193.4 370.3,195.1 360.0,198.5 347.2,194.7 337.3,189.8 334.8,182.3 332.3,174.8"/>
<polygon points="282.2,203.7 284.9,196.0 292.4,191.0 302.4,188.5 312.3,184.8 314.8,179.8 319.8,174.8 326.0,169.8 332.3,174.8 334.8,182.3 337.3,189.8 347.2,194.7 360.0,198.5 370.3,195.1 382.3,193.4 390.0,191.7 398.0,193.0 405.8,194.7 404.6,199.7 402.1,209.7 397.1,217.2 389.6,222.1 387.1,234.6 386.0,245.0 387.2,247.4 377.2,250.0 367.2,251.2 354.8,253.7 339.5,252.3 325.8,252.3 319.6,249.8 309.6,248.5 299.7,244.8 289.7,239.8 282.2,234.8 272.2,229.8 263.5,224.9 272.2,217.4 281.0,210.0"/>
<polygon points="473.7,118.4 476.5,118.2 478.4,119.3 480.3,124.0 483.1,128.7 486.8,133.4 489.6,136.6 492.0,138.0 493.8,134.3 495.2,129.6 497.1,126.8 499.9,126.4 502.2,127.3 504.6,129.6 507.4,130.6 509.3,132.4 510.2,134.8 513.0,135.2 515.8,133.8 518.6,132.4 520.9,129.6 523.3,127.6 523.3,134.3 522.3,139.9 520.5,143.0 518.4,145.8 516.3,150.0 514.2,153.6 513.5,157.1 514.9,160.6 519.8,164.1 525.4,167.6 531.0,170.4 534.5,171.1 540.0,185.0 544.3,197.0 543.6,201.9 543.0,210.0 542.2,219.6 542.2,232.1 541.9,235.2 539.6,232.1 535.7,228.9 531.0,226.6 527.1,222.7 526.3,216.5 521.7,214.9 515.4,216.5 509.2,217.3 505.3,213.4 499.8,212.6 494.4,215.7 487.4,211.0 482.7,214.1 478.0,211.0 473.4,214.1 468.7,216.8 460.9,216.5 457.8,214.9 457.0,210.2 459.3,205.6 461.7,200.9 460.9,196.2 459.3,193.1 457.8,190.0 458.5,186.0 459.4,181.4 457.7,174.6 456.8,164.3 457.7,157.4 460.2,154.0 463.7,153.0 467.4,152.3 471.2,150.5 473.0,147.3 473.0,142.4 471.2,139.9 469.3,136.1 467.4,131.0 468.7,128.0 470.9,125.9 471.4,123.1 472.3,120.3"/>
<polygon points="523.3,127.6 528.2,126.2 532.4,125.5 536.6,126.9 540.8,130.4 544.3,134.6 547.9,137.4 553.5,138.8 558.4,140.9 561.9,144.4 566.1,145.1 573.1,144.4 577.3,143.7 579.4,140.9 582.2,140.9 583.6,143.0 584.3,146.5 587.8,147.9 590.6,149.3 589.2,151.5 587.1,152.9 586.4,157.1 587.1,161.3 585.7,163.4 582.0,180.0 577.0,196.0 575.9,196.3 574.5,197.7 571.7,199.1 567.5,200.5 563.3,199.8 559.1,201.2 554.9,199.1 550.7,199.8 546.5,199.1 544.3,197.0 540.0,185.0 534.5,171.1 531.0,170.4 525.4,167.6 519.8,164.1 514.9,160.6 513.5,157.1 514.2,153.6 516.3,150.0 518.4,145.8 520.5,143.0 522.3,139.9 523.3,134.3"/>
<polygon points="454.8,228.6 456.2,228.9 462.5,228.2 468.7,226.6 469.5,222.7 468.7,216.8 473.4,214.1 478.0,211.0 482.7,214.1 487.4,211.0 494.4,215.7 499.8,212.6 505.3,213.4 509.2,217.3 515.4,216.5 521.7,214.9 526.3,216.5 527.1,222.7 531.0,226.6 535.7,228.9 539.6,232.1 541.9,235.2 544.6,237.4 547.0,239.8 544.6,243.6 539.6,244.8 534.6,243.6 529.6,244.8 525.0,250.0 518.0,258.0 517.1,262.4 517.1,267.9 518.7,271.0 521.0,274.2 521.0,275.0 515.5,276.2 510.8,277.4 507.6,275.8 504.5,274.2 499.7,275.4 495.0,277.4 490.0,277.0 484.7,274.7 480.0,268.0 470.0,262.0 460.0,250.0 455.5,240.0 455.5,233.6"/>
<polygon points="419.6,248.7 422.4,242.3 427.4,238.6 432.4,234.9 439.9,232.4 447.4,231.1 454.8,228.6 455.5,233.6 455.5,240.0 460.0,250.0 470.0,262.0 480.0,268.0 484.7,274.7 490.0,277.0 495.0,277.4 499.7,275.4 504.5,274.2 507.6,275.8 510.8,277.4 515.5,276.2 521.0,275.0 523.4,277.4 525.8,280.5 526.2,283.7 526.5,286.8 528.9,288.8 528.1,290.4 525.8,291.2 524.6,292.3 524.2,294.7 522.6,296.3 521.0,297.1 521.8,299.4 523.4,301.8 524.2,304.2 523.4,307.3 521.0,307.7 517.9,307.3 513.9,306.9 510.8,306.5 507.6,305.0 504.5,303.0 502.1,301.4 498.9,301.0 495.0,300.6 484.2,300.4 476.0,300.6 466.7,301.8 460.0,302.6 455.0,303.4 452.1,306.8 450.3,305.0 448.4,299.3 447.4,294.7 443.6,289.7 440.0,284.7 432.0,275.0 430.0,269.7 425.0,257.3 422.0,252.0"/>
<polygon points="354.8,253.7 367.2,251.2 377.2,250.0 387.2,247.4 397.1,248.7 407.1,250.0 417.1,251.2 419.6,248.7 422.0,252.0 425.0,257.3 430.0,269.7 432.0,275.0 440.0,284.7 443.6,289.7 447.4,294.7 448.4,299.3 450.3,305.0 448.4,307.8 442.8,306.8 439.1,303.1 435.3,301.2 427.9,302.1 423.2,304.0 421.3,306.8 420.4,314.3 419.4,319.0 414.8,316.2 411.0,313.4 405.4,312.4 397.9,311.5 390.5,310.6 384.9,313.4 383.9,318.0 382.1,321.8 383.0,325.5 381.1,323.6 377.4,322.7 372.7,319.9 369.9,314.3 369.0,308.7 365.2,305.9 362.0,295.0 361.0,280.0 359.8,272.4 356.0,262.4"/>
<polygon points="325.8,252.3 339.5,252.3 354.8,253.7 356.0,262.4 359.8,272.4 361.0,280.0 362.0,295.0 365.2,305.9 369.0,308.7 369.9,314.3 372.7,319.9 377.4,322.7 381.1,323.6 383.0,325.5 381.1,327.4 377.4,329.3 373.6,330.2 370.8,332.1 367.1,334.9 360.6,339.5 356.1,342.1 352.3,345.8 348.6,350.5 346.7,354.2 347.7,357.0 344.9,359.3 341.1,358.9 339.3,356.1 338.3,350.5 336.4,348.1 332.7,346.7 326.2,348.1 320.6,348.1 317.8,346.7 317.3,341.1 316.4,335.5 315.0,331.8 312.1,329.9 308.4,329.0 308.9,322.4 309.3,322.4 311.2,320.1 314.0,317.8 318.7,315.0 323.4,312.1 328.0,309.8 327.0,295.0 326.0,280.0 325.0,272.4 325.8,267.2 327.0,259.8"/>
<polygon points="201.2,247.3 207.4,242.3 215.0,236.0 222.4,228.6 227.4,223.6 233.6,222.4 239.8,216.0 243.6,211.0 249.8,210.4 254.8,213.6 257.3,218.6 263.5,224.9 272.2,229.8 282.2,234.8 289.7,239.8 299.7,244.8 309.6,248.5 319.6,249.8 325.8,252.3 327.0,259.8 325.8,267.2 325.0,272.4 326.0,280.0 327.0,295.0 328.0,309.8 323.4,312.1 318.7,315.0 314.0,317.8 311.2,320.1 309.3,322.4 308.9,322.4 308.9,318.7 309.3,314.0 308.9,309.3 306.5,309.3 303.7,311.2 302.8,306.5 300.0,303.7 297.2,299.8 292.5,297.0 289.7,293.8 287.0,294.2 284.1,296.1 278.7,297.0 271.2,296.1 263.6,295.2 254.2,296.1 247.7,296.1 243.0,290.5 237.4,285.0 235.5,279.3 230.9,275.5 229.0,270.9 222.4,266.2 215.0,260.6 207.5,254.0 201.2,249.8"/>
</g>

<circle cx="359.4" cy="332.3" r="5.6" fill="none" stroke="#d5dde0" stroke-width="1.2"/>
<polyline points="359.6,338 359.6,347.4 303.7,347.4" fill="none" stroke="#92d050" stroke-width="1"/>
<circle cx="470.3" cy="292.9" r="5.8" fill="none" stroke="#d5dde0" stroke-width="1.2"/>
<polyline points="470.3,298.7 470.3,314.6 491,314.6 491,330.8" fill="none" stroke="#92d050" stroke-width="1"/>

<text x="339.8" y="68.2" font-size="9.10" fill="#c9d3d6" font-weight="normal" font-style="normal" text-anchor="start" textLength="17.5" lengthAdjust="spacingAndGlyphs">СКО</text>
<text x="98.0" y="131.3" font-size="9.10" fill="#c9d3d6" font-weight="normal" font-style="normal" text-anchor="start" textLength="18.0" lengthAdjust="spacingAndGlyphs">ЗКО</text>
<text x="245.3" y="117.1" font-size="9.10" fill="#c9d3d6" font-weight="normal" font-style="normal" text-anchor="start" textLength="60.6" lengthAdjust="spacingAndGlyphs">Костанайская</text>
<text x="313.0" y="131.5" font-size="9.10" fill="#c9d3d6" font-weight="normal" font-style="normal" text-anchor="start" textLength="60.4" lengthAdjust="spacingAndGlyphs">Акмолинская</text>
<text x="408.5" y="101.1" font-size="9.10" fill="#c9d3d6" font-weight="normal" font-style="normal" text-anchor="start" textLength="63.5" lengthAdjust="spacingAndGlyphs">Павлодарская</text>
<text x="177.7" y="178.9" font-size="9.10" fill="#c9d3d6" font-weight="normal" font-style="normal" text-anchor="start" textLength="59.3" lengthAdjust="spacingAndGlyphs">Актюбинская</text>
<text x="380.2" y="172.3" font-size="9.10" fill="#c9d3d6" font-weight="normal" font-style="normal" text-anchor="start" textLength="73.2" lengthAdjust="spacingAndGlyphs">Карагандинская</text>
<text x="472.5" y="160.6" font-size="9.10" fill="#c9d3d6" font-weight="normal" font-style="normal" text-anchor="start" textLength="41.8" lengthAdjust="spacingAndGlyphs">Абайская</text>
<text x="551.0" y="155.6" font-size="9.10" fill="#c9d3d6" font-weight="normal" font-style="normal" text-anchor="start" textLength="18.2" lengthAdjust="spacingAndGlyphs">ВКО</text>
<text x="487.7" y="238.4" font-size="9.10" fill="#c9d3d6" font-weight="normal" font-style="normal" text-anchor="start" textLength="53.9" lengthAdjust="spacingAndGlyphs">Жетысуская</text>
<text x="427.0" y="246.3" font-size="9.10" fill="#c9d3d6" font-weight="normal" font-style="normal" text-anchor="start" textLength="59.0" lengthAdjust="spacingAndGlyphs">Алматинская</text>
<text x="369.0" y="265.2" font-size="9.10" fill="#c9d3d6" font-weight="normal" font-style="normal" text-anchor="start" textLength="58.0" lengthAdjust="spacingAndGlyphs">Жамбылская</text>
<text x="305.0" y="272.7" font-size="9.10" fill="#c9d3d6" font-weight="normal" font-style="normal" text-anchor="start" textLength="64.0" lengthAdjust="spacingAndGlyphs">Туркестанская</text>
<text x="185.0" y="350.0" font-size="11.60" fill="#c9d3d6" font-weight="normal" font-style="normal" text-anchor="start" textLength="58.5" lengthAdjust="spacingAndGlyphs">г. Шымкент</text>
<text x="524.8" y="348.6" font-size="11.60" fill="#c9d3d6" font-weight="normal" font-style="normal" text-anchor="start" textLength="49.0" lengthAdjust="spacingAndGlyphs">г. Алматы</text>
<text x="56.7" y="68.0" font-size="11.60" fill="#fff" font-weight="normal" font-style="normal" text-anchor="start" textLength="54.3" lengthAdjust="spacingAndGlyphs">Казахстан</text>
<rect x="119.00" y="48.00" width="76.00" height="17.00" fill="url(#boxg)"/>
<rect x="119.00" y="65.00" width="76.00" height="18.00" fill="#1f8aa3"/>
<rect x="119.50" y="48.50" width="75.00" height="34.00" fill="none" stroke="#94d84b" stroke-width="1.00"/>
<rect x="119" y="65" width="76" height="1" fill="#94d84b"/>
<text x="157.0" y="60.9" font-size="11.30" fill="#fff" font-weight="bold" font-style="normal" text-anchor="middle" textLength="43.0" lengthAdjust="spacingAndGlyphs" stroke="#fff" stroke-width="0.25">135 296</text>
<text x="157.0" y="77.6" font-size="11.30" fill="#fff" font-weight="bold" font-style="normal" text-anchor="middle" textLength="36.5" lengthAdjust="spacingAndGlyphs" stroke="#fff" stroke-width="0.25">36 149</text>
<rect x="323.00" y="74.00" width="54.00" height="16.00" fill="url(#boxg)"/>
<rect x="323.50" y="74.50" width="53.00" height="15.00" fill="none" stroke="#94d84b" stroke-width="1.00"/>
<text x="350.0" y="85.1" font-size="10.90" fill="#fff" font-weight="bold" font-style="normal" text-anchor="middle" textLength="26.3" lengthAdjust="spacingAndGlyphs" stroke="#fff" stroke-width="0.25">6 655</text>
<rect x="81.00" y="137.00" width="53.00" height="16.00" fill="url(#boxg)"/>
<rect x="81.00" y="153.00" width="53.00" height="15.00" fill="#1f8aa3"/>
<rect x="81.50" y="137.50" width="52.00" height="30.00" fill="none" stroke="#94d84b" stroke-width="1.00"/>
<rect x="81" y="153" width="53" height="1" fill="#94d84b"/>
<text x="107.5" y="148.7" font-size="10.90" fill="#fff" font-weight="bold" font-style="normal" text-anchor="middle" textLength="26.3" lengthAdjust="spacingAndGlyphs" stroke="#fff" stroke-width="0.25">1 647</text>
<text x="107.5" y="164.0" font-size="10.90" fill="#fff" font-weight="bold" font-style="normal" text-anchor="middle" textLength="17.6" lengthAdjust="spacingAndGlyphs" stroke="#fff" stroke-width="0.25">124</text>
<rect x="250.00" y="124.00" width="53.00" height="15.00" fill="url(#boxg)"/>
<rect x="250.00" y="139.00" width="53.00" height="16.00" fill="#1f8aa3"/>
<rect x="250.50" y="124.50" width="52.00" height="30.00" fill="none" stroke="#94d84b" stroke-width="1.00"/>
<rect x="250" y="139" width="53" height="1" fill="#94d84b"/>
<text x="276.5" y="135.0" font-size="10.90" fill="#fff" font-weight="bold" font-style="normal" text-anchor="middle" textLength="26.3" lengthAdjust="spacingAndGlyphs" stroke="#fff" stroke-width="0.25">6 638</text>
<text x="276.5" y="150.2" font-size="10.90" fill="#fff" font-weight="bold" font-style="normal" text-anchor="middle" textLength="11.7" lengthAdjust="spacingAndGlyphs" stroke="#fff" stroke-width="0.25">60</text>
<rect x="317.00" y="138.00" width="53.00" height="15.00" fill="url(#boxg)"/>
<rect x="317.00" y="153.00" width="53.00" height="16.00" fill="#1f8aa3"/>
<rect x="317.50" y="138.50" width="52.00" height="30.00" fill="none" stroke="#94d84b" stroke-width="1.00"/>
<rect x="317" y="153" width="53" height="1" fill="#94d84b"/>
<text x="343.5" y="149.1" font-size="10.90" fill="#fff" font-weight="bold" font-style="normal" text-anchor="middle" textLength="26.3" lengthAdjust="spacingAndGlyphs" stroke="#fff" stroke-width="0.25">8 439</text>
<text x="343.5" y="164.2" font-size="10.90" fill="#fff" font-weight="bold" font-style="normal" text-anchor="middle" textLength="11.7" lengthAdjust="spacingAndGlyphs" stroke="#fff" stroke-width="0.25">40</text>
<rect x="414.00" y="108.00" width="54.00" height="15.00" fill="url(#boxg)"/>
<rect x="414.00" y="123.00" width="54.00" height="16.00" fill="#1f8aa3"/>
<rect x="414.50" y="108.50" width="53.00" height="30.00" fill="none" stroke="#94d84b" stroke-width="1.00"/>
<rect x="414" y="123" width="54" height="1" fill="#94d84b"/>
<text x="441.0" y="119.1" font-size="10.90" fill="#fff" font-weight="bold" font-style="normal" text-anchor="middle" textLength="17.6" lengthAdjust="spacingAndGlyphs" stroke="#fff" stroke-width="0.25">458</text>
<text x="441.0" y="134.1" font-size="10.90" fill="#fff" font-weight="bold" font-style="normal" text-anchor="middle" textLength="11.7" lengthAdjust="spacingAndGlyphs" stroke="#fff" stroke-width="0.25">13</text>
<rect x="181.00" y="186.00" width="52.00" height="15.00" fill="url(#boxg)"/>
<rect x="181.00" y="201.00" width="52.00" height="16.00" fill="#1f8aa3"/>
<rect x="181.50" y="186.50" width="51.00" height="30.00" fill="none" stroke="#94d84b" stroke-width="1.00"/>
<rect x="181" y="201" width="52" height="1" fill="#94d84b"/>
<text x="207.0" y="197.0" font-size="10.90" fill="#fff" font-weight="bold" font-style="normal" text-anchor="middle" textLength="26.3" lengthAdjust="spacingAndGlyphs" stroke="#fff" stroke-width="0.25">2 865</text>
<text x="207.0" y="212.1" font-size="10.90" fill="#fff" font-weight="bold" font-style="normal" text-anchor="middle" textLength="26.3" lengthAdjust="spacingAndGlyphs" stroke="#fff" stroke-width="0.25">1 527</text>
<rect x="390.00" y="179.00" width="54.00" height="16.00" fill="url(#boxg)"/>
<rect x="390.50" y="179.50" width="53.00" height="15.00" fill="none" stroke="#94d84b" stroke-width="1.00"/>
<text x="417.0" y="190.2" font-size="10.90" fill="#fff" font-weight="bold" font-style="normal" text-anchor="middle" textLength="17.6" lengthAdjust="spacingAndGlyphs" stroke="#fff" stroke-width="0.25">221</text>
<rect x="467.00" y="168.00" width="54.00" height="16.00" fill="url(#boxg)"/>
<rect x="467.50" y="168.50" width="53.00" height="15.00" fill="none" stroke="#94d84b" stroke-width="1.00"/>
<text x="494.0" y="179.0" font-size="10.90" fill="#fff" font-weight="bold" font-style="normal" text-anchor="middle" textLength="32.2" lengthAdjust="spacingAndGlyphs" stroke="#fff" stroke-width="0.25">33 681</text>
<rect x="534.00" y="164.00" width="53.00" height="16.00" fill="url(#boxg)"/>
<rect x="534.00" y="180.00" width="53.00" height="16.00" fill="#1f8aa3"/>
<rect x="534.50" y="164.50" width="52.00" height="31.00" fill="none" stroke="#94d84b" stroke-width="1.00"/>
<rect x="534" y="180" width="53" height="1" fill="#94d84b"/>
<text x="560.5" y="175.3" font-size="10.90" fill="#fff" font-weight="bold" font-style="normal" text-anchor="middle" textLength="32.2" lengthAdjust="spacingAndGlyphs" stroke="#fff" stroke-width="0.25">46 126</text>
<text x="560.5" y="191.2" font-size="10.90" fill="#fff" font-weight="bold" font-style="normal" text-anchor="middle" textLength="32.2" lengthAdjust="spacingAndGlyphs" stroke="#fff" stroke-width="0.25">17 308</text>
<rect x="488.00" y="246.00" width="54.00" height="16.00" fill="url(#boxg)"/>
<rect x="488.50" y="246.50" width="53.00" height="15.00" fill="none" stroke="#94d84b" stroke-width="1.00"/>
<text x="515.0" y="257.2" font-size="10.90" fill="#fff" font-weight="bold" font-style="normal" text-anchor="middle" textLength="26.3" lengthAdjust="spacingAndGlyphs" stroke="#fff" stroke-width="0.25">4 510</text>
<rect x="430.00" y="254.00" width="54.00" height="15.00" fill="url(#boxg)"/>
<rect x="430.00" y="269.00" width="54.00" height="15.00" fill="#1f8aa3"/>
<rect x="430.50" y="254.50" width="53.00" height="29.00" fill="none" stroke="#94d84b" stroke-width="1.00"/>
<rect x="430" y="269" width="54" height="1" fill="#94d84b"/>
<text x="457.0" y="264.9" font-size="10.90" fill="#fff" font-weight="bold" font-style="normal" text-anchor="middle" textLength="26.3" lengthAdjust="spacingAndGlyphs" stroke="#fff" stroke-width="0.25">2 245</text>
<text x="457.0" y="279.9" font-size="10.90" fill="#fff" font-weight="bold" font-style="normal" text-anchor="middle" textLength="5.9" lengthAdjust="spacingAndGlyphs" stroke="#fff" stroke-width="0.25">2</text>
<rect x="372.00" y="271.00" width="53.00" height="15.00" fill="url(#boxg)"/>
<rect x="372.00" y="286.00" width="53.00" height="16.00" fill="#1f8aa3"/>
<rect x="372.50" y="271.50" width="52.00" height="30.00" fill="none" stroke="#94d84b" stroke-width="1.00"/>
<rect x="372" y="286" width="53" height="1" fill="#94d84b"/>
<text x="398.5" y="282.3" font-size="10.90" fill="#fff" font-weight="bold" font-style="normal" text-anchor="middle" textLength="17.6" lengthAdjust="spacingAndGlyphs" stroke="#fff" stroke-width="0.25">312</text>
<text x="398.5" y="297.2" font-size="10.90" fill="#fff" font-weight="bold" font-style="normal" text-anchor="middle" textLength="11.7" lengthAdjust="spacingAndGlyphs" stroke="#fff" stroke-width="0.25">27</text>
<rect x="311.00" y="279.00" width="54.00" height="15.00" fill="url(#boxg)"/>
<rect x="311.00" y="294.00" width="54.00" height="15.00" fill="#1f8aa3"/>
<rect x="311.50" y="279.50" width="53.00" height="29.00" fill="none" stroke="#94d84b" stroke-width="1.00"/>
<rect x="311" y="294" width="54" height="1" fill="#94d84b"/>
<text x="338.0" y="290.0" font-size="10.90" fill="#fff" font-weight="bold" font-style="normal" text-anchor="middle" textLength="17.6" lengthAdjust="spacingAndGlyphs" stroke="#fff" stroke-width="0.25">559</text>
<text x="338.0" y="304.9" font-size="10.90" fill="#fff" font-weight="bold" font-style="normal" text-anchor="middle" textLength="11.7" lengthAdjust="spacingAndGlyphs" stroke="#fff" stroke-width="0.25">81</text>
<rect x="250.00" y="332.00" width="54.00" height="15.00" fill="url(#boxg)"/>
<rect x="250.00" y="347.00" width="54.00" height="15.00" fill="#1f8aa3"/>
<rect x="250.50" y="332.50" width="53.00" height="29.00" fill="none" stroke="#94d84b" stroke-width="1.00"/>
<rect x="250" y="347" width="54" height="1" fill="#94d84b"/>
<text x="277.0" y="342.9" font-size="10.90" fill="#fff" font-weight="bold" font-style="normal" text-anchor="middle" textLength="26.3" lengthAdjust="spacingAndGlyphs" stroke="#fff" stroke-width="0.25">1 197</text>
<text x="277.0" y="357.9" font-size="10.90" fill="#fff" font-weight="bold" font-style="normal" text-anchor="middle" textLength="26.3" lengthAdjust="spacingAndGlyphs" stroke="#fff" stroke-width="0.25">7 890</text>
<rect x="464.00" y="330.00" width="54.00" height="15.00" fill="url(#boxg)"/>
<rect x="464.00" y="345.00" width="54.00" height="15.00" fill="#1f8aa3"/>
<rect x="464.50" y="330.50" width="53.00" height="29.00" fill="none" stroke="#94d84b" stroke-width="1.00"/>
<rect x="464" y="345" width="54" height="1" fill="#94d84b"/>
<text x="491.0" y="341.2" font-size="10.90" fill="#fff" font-weight="bold" font-style="normal" text-anchor="middle" textLength="32.2" lengthAdjust="spacingAndGlyphs" stroke="#fff" stroke-width="0.25">19 741</text>
<text x="491.0" y="356.0" font-size="10.90" fill="#fff" font-weight="bold" font-style="normal" text-anchor="middle" textLength="26.3" lengthAdjust="spacingAndGlyphs" stroke="#fff" stroke-width="0.25">9 076</text>
<!-- legend -->
<rect x="7" y="359" width="16" height="16" fill="url(#boxg)"/><rect x="7.5" y="359.5" width="15" height="15" fill="none" stroke="#94d84b" stroke-width="1"/>
<rect x="7" y="377" width="16" height="16" fill="#1f8aa3"/><rect x="7.5" y="377.5" width="15" height="15" fill="none" stroke="#94d84b" stroke-width="1"/>
<text x="27.0" y="371.6" font-size="10.10" fill="#c9d3d6" font-weight="normal" font-style="normal" text-anchor="start" textLength="185.0" lengthAdjust="spacingAndGlyphs">Масло растительное нерафинированное</text>
<text x="27.0" y="389.2" font-size="10.10" fill="#c9d3d6" font-weight="normal" font-style="normal" text-anchor="start" textLength="247.0" lengthAdjust="spacingAndGlyphs">Масло растительное рафинированное, кроме отходов</text>
<rect x="0" y="398" width="642" height="34" fill="url(#hdr)"/>
<text x="15.9" y="419.7" font-size="12.80" fill="#92d050" font-weight="bold" font-style="normal" text-anchor="start" textLength="107.5" lengthAdjust="spacingAndGlyphs">Годовые данные</text><rect x="130" y="409.4" width="1.2" height="12.7" fill="#fff"/><text x="137.4" y="419.9" font-size="12.90" fill="#e9eef0" font-weight="normal" font-style="normal" text-anchor="start" textLength="56.8" lengthAdjust="spacingAndGlyphs" stroke="#e9eef0" stroke-width="0.2">тыс. тонн</text>
<line x1="41.9" y1="577.5" x2="628" y2="577.5" stroke="#2aa3c0" stroke-width="1" stroke-dasharray="4.6 2.4"/>
<line x1="41.9" y1="563.5" x2="628" y2="563.5" stroke="#2aa3c0" stroke-width="1" stroke-dasharray="4.6 2.4"/>
<line x1="41.9" y1="549.5" x2="628" y2="549.5" stroke="#2aa3c0" stroke-width="1" stroke-dasharray="4.6 2.4"/>
<line x1="41.9" y1="535.5" x2="628" y2="535.5" stroke="#2aa3c0" stroke-width="1" stroke-dasharray="4.6 2.4"/>
<line x1="41.9" y1="521.5" x2="628" y2="521.5" stroke="#2aa3c0" stroke-width="1" stroke-dasharray="4.6 2.4"/>
<line x1="41.9" y1="507.5" x2="628" y2="507.5" stroke="#2aa3c0" stroke-width="1" stroke-dasharray="4.6 2.4"/>
<line x1="41.9" y1="493.5" x2="628" y2="493.5" stroke="#2aa3c0" stroke-width="1" stroke-dasharray="4.6 2.4"/>
<line x1="41.9" y1="479.5" x2="628" y2="479.5" stroke="#2aa3c0" stroke-width="1" stroke-dasharray="4.6 2.4"/>
<line x1="41.9" y1="465.5" x2="628" y2="465.5" stroke="#2aa3c0" stroke-width="1" stroke-dasharray="4.6 2.4"/>
<line x1="41.9" y1="452.5" x2="628" y2="452.5" stroke="#2aa3c0" stroke-width="1" stroke-dasharray="4.6 2.4"/>
<text x="32.2" y="593.7" font-size="9.40" fill="#eef2f3" font-weight="bold" font-style="normal" text-anchor="end" textLength="13.7" lengthAdjust="spacingAndGlyphs">0,0</text>
<text x="32.2" y="579.8" font-size="9.40" fill="#eef2f3" font-weight="bold" font-style="normal" text-anchor="end" textLength="19.2" lengthAdjust="spacingAndGlyphs">50,0</text>
<text x="32.2" y="565.9" font-size="9.40" fill="#eef2f3" font-weight="bold" font-style="normal" text-anchor="end" textLength="24.7" lengthAdjust="spacingAndGlyphs">100,0</text>
<text x="32.2" y="552.0" font-size="9.40" fill="#eef2f3" font-weight="bold" font-style="normal" text-anchor="end" textLength="24.7" lengthAdjust="spacingAndGlyphs">150,0</text>
<text x="32.2" y="538.1" font-size="9.40" fill="#eef2f3" font-weight="bold" font-style="normal" text-anchor="end" textLength="24.7" lengthAdjust="spacingAndGlyphs">200,0</text>
<text x="32.2" y="524.2" font-size="9.40" fill="#eef2f3" font-weight="bold" font-style="normal" text-anchor="end" textLength="24.7" lengthAdjust="spacingAndGlyphs">250,0</text>
<text x="32.2" y="510.3" font-size="9.40" fill="#eef2f3" font-weight="bold" font-style="normal" text-anchor="end" textLength="24.7" lengthAdjust="spacingAndGlyphs">300,0</text>
<text x="32.2" y="496.4" font-size="9.40" fill="#eef2f3" font-weight="bold" font-style="normal" text-anchor="end" textLength="24.7" lengthAdjust="spacingAndGlyphs">350,0</text>
<text x="32.2" y="482.5" font-size="9.40" fill="#eef2f3" font-weight="bold" font-style="normal" text-anchor="end" textLength="24.7" lengthAdjust="spacingAndGlyphs">400,0</text>
<text x="32.2" y="468.6" font-size="9.40" fill="#eef2f3" font-weight="bold" font-style="normal" text-anchor="end" textLength="24.7" lengthAdjust="spacingAndGlyphs">450,0</text>
<text x="32.2" y="454.7" font-size="9.40" fill="#eef2f3" font-weight="bold" font-style="normal" text-anchor="end" textLength="24.7" lengthAdjust="spacingAndGlyphs">500,0</text>
<rect x="52.0" y="550.3" width="24" height="40.7" fill="#92d050" filter="url(#bsh)"/>
<rect x="82.0" y="551.0" width="24" height="40.0" fill="#fff" filter="url(#bsh)"/>
<text x="64.0" y="540.3" font-size="10.90" fill="#fff" font-weight="bold" font-style="normal" text-anchor="middle" textLength="26.3" lengthAdjust="spacingAndGlyphs" stroke="#fff" stroke-width="0.25">146,3</text>
<text x="94.0" y="541.0" font-size="10.90" fill="#fff" font-weight="bold" font-style="normal" text-anchor="middle" textLength="26.3" lengthAdjust="spacingAndGlyphs" stroke="#fff" stroke-width="0.25">144,0</text>
<text x="79.0" y="609.8" font-size="10.70" fill="#fff" font-weight="normal" font-style="normal" text-anchor="middle" textLength="23.8" lengthAdjust="spacingAndGlyphs">2015</text>
<rect x="125.4" y="550.1" width="24" height="40.9" fill="#92d050" filter="url(#bsh)"/>
<rect x="155.5" y="545.1" width="24" height="45.9" fill="#fff" filter="url(#bsh)"/>
<text x="137.4" y="540.1" font-size="10.90" fill="#fff" font-weight="bold" font-style="normal" text-anchor="middle" textLength="26.3" lengthAdjust="spacingAndGlyphs" stroke="#fff" stroke-width="0.25">147,3</text>
<text x="167.5" y="535.1" font-size="10.90" fill="#fff" font-weight="bold" font-style="normal" text-anchor="middle" textLength="26.3" lengthAdjust="spacingAndGlyphs" stroke="#fff" stroke-width="0.25">165,0</text>
<text x="152.4" y="609.8" font-size="10.70" fill="#fff" font-weight="normal" font-style="normal" text-anchor="middle" textLength="23.8" lengthAdjust="spacingAndGlyphs">2016</text>
<rect x="198.9" y="535.7" width="24" height="55.3" fill="#92d050" filter="url(#bsh)"/>
<rect x="229.0" y="542.7" width="24" height="48.3" fill="#fff" filter="url(#bsh)"/>
<text x="210.9" y="525.7" font-size="10.90" fill="#fff" font-weight="bold" font-style="normal" text-anchor="middle" textLength="26.3" lengthAdjust="spacingAndGlyphs" stroke="#fff" stroke-width="0.25">199,0</text>
<text x="241.0" y="532.7" font-size="10.90" fill="#fff" font-weight="bold" font-style="normal" text-anchor="middle" textLength="26.3" lengthAdjust="spacingAndGlyphs" stroke="#fff" stroke-width="0.25">173,6</text>
<text x="225.9" y="609.8" font-size="10.70" fill="#fff" font-weight="normal" font-style="normal" text-anchor="middle" textLength="23.8" lengthAdjust="spacingAndGlyphs">2017</text>
<rect x="272.3" y="526.3" width="24" height="64.7" fill="#92d050" filter="url(#bsh)"/>
<rect x="302.5" y="547.6" width="24" height="43.4" fill="#fff" filter="url(#bsh)"/>
<text x="284.3" y="516.3" font-size="10.90" fill="#fff" font-weight="bold" font-style="normal" text-anchor="middle" textLength="26.3" lengthAdjust="spacingAndGlyphs" stroke="#fff" stroke-width="0.25">232,6</text>
<text x="314.5" y="537.6" font-size="10.90" fill="#fff" font-weight="bold" font-style="normal" text-anchor="middle" textLength="26.3" lengthAdjust="spacingAndGlyphs" stroke="#fff" stroke-width="0.25">156,1</text>
<text x="299.3" y="609.8" font-size="10.70" fill="#fff" font-weight="normal" font-style="normal" text-anchor="middle" textLength="23.8" lengthAdjust="spacingAndGlyphs">2018</text>
<rect x="345.7" y="502.8" width="24" height="88.2" fill="#92d050" filter="url(#bsh)"/>
<rect x="376.0" y="546.5" width="24" height="44.5" fill="#fff" filter="url(#bsh)"/>
<text x="357.7" y="492.8" font-size="10.90" fill="#fff" font-weight="bold" font-style="normal" text-anchor="middle" textLength="26.3" lengthAdjust="spacingAndGlyphs" stroke="#fff" stroke-width="0.25">317,1</text>
<text x="388.0" y="536.5" font-size="10.90" fill="#fff" font-weight="bold" font-style="normal" text-anchor="middle" textLength="26.3" lengthAdjust="spacingAndGlyphs" stroke="#fff" stroke-width="0.25">160,0</text>
<text x="372.7" y="609.8" font-size="10.70" fill="#fff" font-weight="normal" font-style="normal" text-anchor="middle" textLength="23.8" lengthAdjust="spacingAndGlyphs">2019</text>
<rect x="419.2" y="498.1" width="24" height="92.9" fill="#92d050" filter="url(#bsh)"/>
<rect x="449.5" y="549.1" width="24" height="41.9" fill="#fff" filter="url(#bsh)"/>
<text x="431.2" y="488.1" font-size="10.90" fill="#fff" font-weight="bold" font-style="normal" text-anchor="middle" textLength="26.3" lengthAdjust="spacingAndGlyphs" stroke="#fff" stroke-width="0.25">334,2</text>
<text x="461.5" y="539.1" font-size="10.90" fill="#fff" font-weight="bold" font-style="normal" text-anchor="middle" textLength="26.3" lengthAdjust="spacingAndGlyphs" stroke="#fff" stroke-width="0.25">150,6</text>
<text x="446.2" y="609.8" font-size="10.70" fill="#fff" font-weight="normal" font-style="normal" text-anchor="middle" textLength="23.8" lengthAdjust="spacingAndGlyphs">2020</text>
<rect x="492.6" y="517.1" width="24" height="73.9" fill="#92d050" filter="url(#bsh)"/>
<rect x="523.0" y="545.3" width="24" height="45.7" fill="#fff" filter="url(#bsh)"/>
<text x="504.6" y="507.1" font-size="10.90" fill="#fff" font-weight="bold" font-style="normal" text-anchor="middle" textLength="26.3" lengthAdjust="spacingAndGlyphs" stroke="#fff" stroke-width="0.25">265,8</text>
<text x="535.0" y="535.3" font-size="10.90" fill="#fff" font-weight="bold" font-style="normal" text-anchor="middle" textLength="26.3" lengthAdjust="spacingAndGlyphs" stroke="#fff" stroke-width="0.25">164,4</text>
<text x="519.6" y="609.8" font-size="10.70" fill="#fff" font-weight="normal" font-style="normal" text-anchor="middle" textLength="23.8" lengthAdjust="spacingAndGlyphs">2021</text>
<rect x="566.0" y="461.9" width="24" height="129.1" fill="#92d050" filter="url(#bsh)"/>
<rect x="596.5" y="541.0" width="24" height="50.0" fill="#fff" filter="url(#bsh)"/>
<text x="578.0" y="451.9" font-size="10.90" fill="#fff" font-weight="bold" font-style="normal" text-anchor="middle" textLength="26.3" lengthAdjust="spacingAndGlyphs" stroke="#fff" stroke-width="0.25">464,5</text>
<text x="608.5" y="531.0" font-size="10.90" fill="#fff" font-weight="bold" font-style="normal" text-anchor="middle" textLength="26.3" lengthAdjust="spacingAndGlyphs" stroke="#fff" stroke-width="0.25">179,8</text>
<text x="570.2" y="609.9" font-size="10.70" fill="#fff" font-weight="normal" font-style="normal" text-anchor="start" textLength="40.4" lengthAdjust="spacingAndGlyphs">2022/12</text><text x="610.8" y="610.5" font-size="10.50" fill="#fff" font-weight="bold" font-style="normal" text-anchor="start">*</text>
<line x1="42" y1="591.5" x2="630.5" y2="591.5" stroke="#e0e6e8" stroke-width="1"/>
<rect x="58" y="630.2" width="6" height="6.7" fill="#92d050"/>
<text x="67.9" y="636.6" font-size="10.60" fill="#f2f5f6" font-weight="normal" font-style="normal" text-anchor="start" textLength="206.5" lengthAdjust="spacingAndGlyphs">Масло растительное нерафинированное</text>
<rect x="301" y="630.2" width="6" height="6.7" fill="#fff"/>
<text x="309.6" y="636.6" font-size="10.60" fill="#f2f5f6" font-weight="normal" font-style="normal" text-anchor="start" textLength="278.9" lengthAdjust="spacingAndGlyphs">Масло растительное рафинированное, кроме отходов</text>
<text x="13.0" y="662.8" font-size="10.50" fill="#fff" font-weight="normal" font-style="italic" text-anchor="start" textLength="248.7" lengthAdjust="spacingAndGlyphs">* оперативные данные за январь–декабрь 2022</text>
<rect x="0" y="672" width="642" height="25" fill="url(#hdr)"/>
<text x="13.0" y="688.2" font-size="10.90" fill="#bad942" font-weight="normal" font-style="italic" text-anchor="start" textLength="284.3" lengthAdjust="spacingAndGlyphs">Источник: Бюро национальной статистики АСПиР РК</text>

<path d="M557.8,676.3 L569.3,676.1 Q568.8,678.2 567.9,679.4 L556.2,679.9 Q556.6,677.5 557.8,676.3 Z" fill="#fff"/>
<path d="M556.8,681.2 L567.1,681 Q566.9,683.3 566.4,684.5 L555.5,685.2 Q555.6,682.5 556.8,681.2 Z" fill="#fff"/>
<path d="M555.8,686 L567.1,685.4 Q566.6,688 565.6,689.1 L554.3,690.9 Q554.5,687.5 555.8,686 Z" fill="#fff"/>
<text x="571.0" y="689.4" font-size="11.60" fill="#fff" font-weight="bold" font-style="italic" text-anchor="start" textLength="34.0" lengthAdjust="spacingAndGlyphs">Energy</text><text x="605.0" y="689.4" font-size="11.60" fill="#fff" font-weight="normal" font-style="italic" text-anchor="start" textLength="27.0" lengthAdjust="spacingAndGlyphs">Prom</text>
</svg>
</body></html>
